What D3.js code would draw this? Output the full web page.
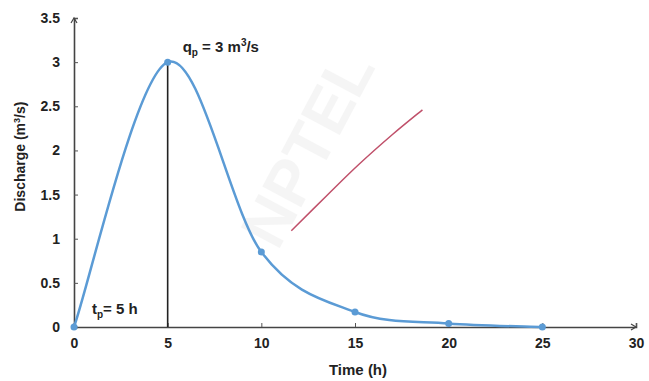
<!DOCTYPE html>
<html>
<head>
<meta charset="utf-8">
<script src="https://cdn.jsdelivr.net/npm/d3@7"></script>
<style>
body { margin: 0; background: #fff; }
text { font-family: "Liberation Sans", Arial, sans-serif; }
</style>
</head>
<body>
<div id="chart"></div>
<script>
// unit hydrograph values
var time = [0, 5, 10, 15, 20, 25];
var discharge = [0, 3, 0.85, 0.17, 0.04, 0];
var xTicks = [0, 5, 10, 15, 20, 25, 30];
var yTicks = [0, 0.5, 1, 1.5, 2, 2.5, 3, 3.5];
// stray red pen stroke
var penX = [11.6, 13.5, 15.2, 17, 18.6];
var penY = [1.09, 1.49, 1.84, 2.18, 2.46];

var width = 649, height = 381;
var margin = {top: 18, right: 13, bottom: 54, left: 74};

var svg = d3.select("#chart").append("svg")
  .attr("width", width)
  .attr("height", height);

var x = d3.scaleLinear().domain([0, 30]).range([margin.left, width - margin.right]);
var y = d3.scaleLinear().domain([0, 3.5]).range([height - margin.bottom, margin.top]);

// spreadsheet style smoothing: catmull-rom with the end points doubled
function smoothCurve(context) {
  var pts;
  return {
    areaStart: function () {},
    areaEnd: function () {},
    lineStart: function () { pts = []; },
    point: function (px, py) { pts.push([px, py]); },
    lineEnd: function () {
      var n = pts.length;
      if (!n) return;
      context.moveTo(pts[0][0], pts[0][1]);
      for (var i = 0; i < n - 1; i++) {
        var p0 = pts[i - 1] || pts[i], p1 = pts[i], p2 = pts[i + 1], p3 = pts[i + 2] || pts[i + 1];
        context.bezierCurveTo(
          p1[0] + (p2[0] - p0[0]) / 6, p1[1] + (p2[1] - p0[1]) / 6,
          p2[0] - (p3[0] - p1[0]) / 6, p2[1] - (p3[1] - p1[1]) / 6,
          p2[0], p2[1]);
      }
    }
  };
}

// watermark
svg.append("text")
  .attr("transform", "translate(" + x(13.5) + "," + y(1.9) + ") rotate(-62)")
  .attr("text-anchor", "middle")
  .style("font-size", "64px")
  .style("font-weight", "bold")
  .style("fill", "#000")
  .style("opacity", 0.035)
  .text("NPTEL");

// x axis
var xAxis = svg.append("g")
  .attr("transform", "translate(0," + y(0) + ")")
  .call(d3.axisBottom(x).tickValues(xTicks).tickSize(-4).tickPadding(11).tickFormat(d3.format("d")));
xAxis.select(".domain").attr("stroke", "#444").attr("stroke-width", 1.6);
xAxis.selectAll(".tick line").attr("stroke", "#555");
xAxis.selectAll(".tick text").style("font-size", "14px").style("font-weight", "bold").attr("fill", "#222");

// y axis
var yAxis = svg.append("g")
  .attr("transform", "translate(" + x(0) + ",0)")
  .call(d3.axisLeft(y).tickValues(yTicks).tickSize(-4).tickPadding(14).tickFormat(function (d) { return d; }));
yAxis.select(".domain").attr("stroke", "#444").attr("stroke-width", 1.6);
yAxis.selectAll(".tick line").attr("stroke", "#555");
yAxis.selectAll(".tick text").style("font-size", "14px").style("font-weight", "bold").attr("fill", "#222");

// small arrow heads at axis ends
svg.append("path")
  .attr("d", "M" + (x(30) - 5) + "," + (y(0) - 3) + "L" + x(30) + "," + y(0) + "L" + (x(30) - 5) + "," + (y(0) + 3))
  .attr("fill", "none").attr("stroke", "#444").attr("stroke-width", 1.2);
svg.append("path")
  .attr("d", "M" + (x(0) - 3) + "," + (y(3.5) + 5) + "L" + x(0) + "," + y(3.5) + "L" + (x(0) + 3) + "," + (y(3.5) + 5))
  .attr("fill", "none").attr("stroke", "#444").attr("stroke-width", 1.2);

// axis titles
svg.append("text")
  .attr("x", 358)
  .attr("y", 375)
  .attr("text-anchor", "middle")
  .style("font-size", "15px")
  .style("font-weight", "bold")
  .attr("fill", "#222")
  .text("Time (h)");

var ylab = svg.append("text")
  .attr("transform", "translate(25," + y(1.93) + ") rotate(-90)")
  .attr("text-anchor", "middle")
  .style("font-size", "14px")
  .style("font-weight", "bold")
  .attr("fill", "#222");
ylab.append("tspan").text("Discharge (m");
ylab.append("tspan").attr("dy", -5).style("font-size", "9px").text("3");
ylab.append("tspan").attr("dy", 5).text("/s)");

// peak line
svg.append("line")
  .attr("x1", x(5)).attr("y1", y(0))
  .attr("x2", x(5)).attr("y2", y(3))
  .attr("stroke", "#222").attr("stroke-width", 1.6);

var data = time.map(function (t, i) { return {t: t, q: discharge[i]}; });

var line = d3.line()
  .x(function (d) { return x(d.t); })
  .y(function (d) { return y(d.q); })
  .curve(smoothCurve);

svg.append("path")
  .datum(data)
  .attr("d", line)
  .attr("fill", "none")
  .attr("stroke", "#5b9bd5")
  .attr("stroke-width", 2.5);

svg.append("g")
  .selectAll("circle")
  .data(data)
  .enter()
  .append("circle")
    .attr("cx", function (d) { return x(d.t); })
    .attr("cy", function (d) { return y(d.q); })
    .attr("r", 3.5)
    .style("fill", "#5b9bd5");

// red stroke
var pen = penX.map(function (v, i) { return {t: v, q: penY[i]}; });
svg.append("path")
  .datum(pen)
  .attr("d", line)
  .attr("fill", "none")
  .attr("stroke", "#c0506a")
  .attr("stroke-width", 1.5);

// annotations
var qp = svg.append("text")
  .attr("x", x(5) + 15)
  .attr("y", 52)
  .style("font-size", "15px")
  .style("font-weight", "bold")
  .attr("fill", "#222");
qp.append("tspan").text("q");
qp.append("tspan").attr("dy", 4).style("font-size", "10px").text("p");
qp.append("tspan").attr("dy", -4).text(" = 3 m");
qp.append("tspan").attr("dy", -6).style("font-size", "10px").text("3");
qp.append("tspan").attr("dy", 6).text("/s");

var tp = svg.append("text")
  .attr("x", x(0) + 18)
  .attr("y", 314)
  .style("font-size", "15px")
  .style("font-weight", "bold")
  .attr("fill", "#222");
tp.append("tspan").text("t");
tp.append("tspan").attr("dy", 4).style("font-size", "10px").text("p");
tp.append("tspan").attr("dy", -4).text("= 5 h");
</script>
</body>
</html>
